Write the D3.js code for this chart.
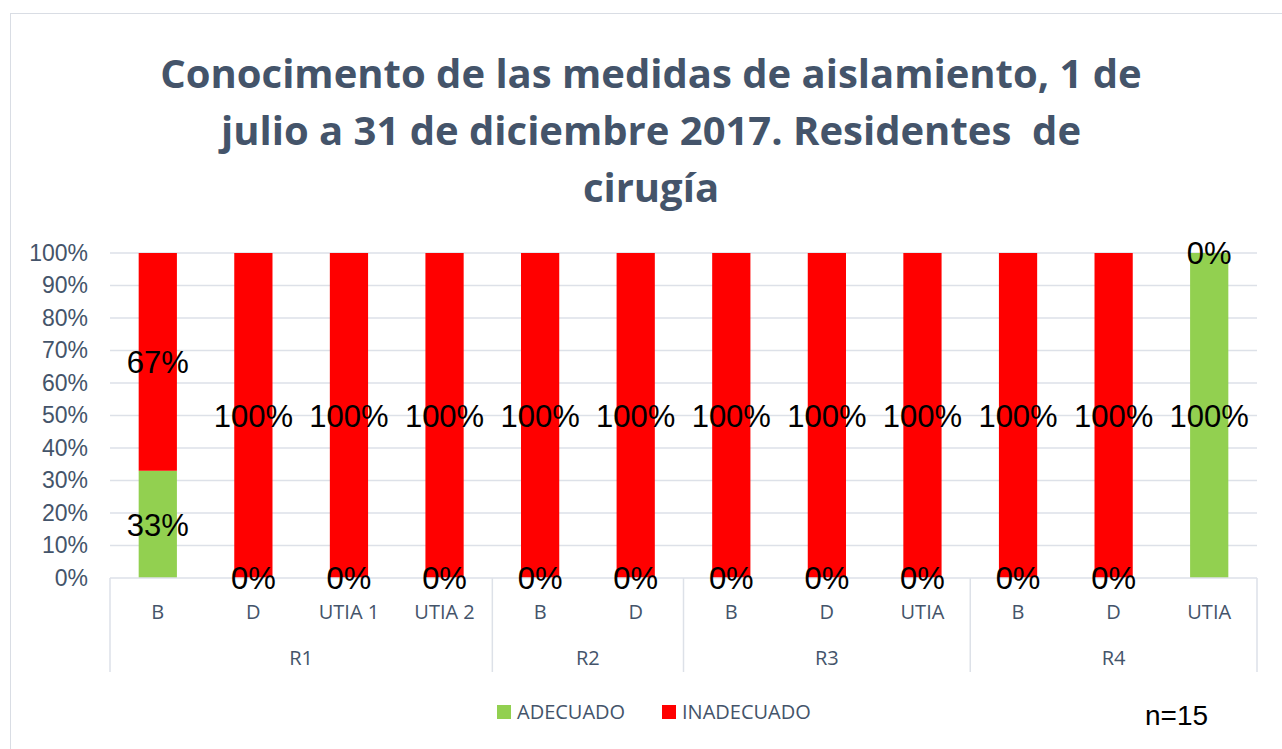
<!DOCTYPE html>
<html>
<head>
<meta charset="utf-8">
<script src="https://cdn.jsdelivr.net/npm/d3@7"></script>
<style>
  body { margin: 0; background: #fff; }
  svg { display: block; }
</style>
</head>
<body>
<div id="chart"></div>
<script>
const titleLines = [
  "Conocimento de las medidas de aislamiento, 1 de",
  "julio a 31 de diciembre 2017. Residentes  de",
  "cirugía"
];
const groups = ["R1", "R1", "R1", "R1", "R2", "R2", "R3", "R3", "R3", "R4", "R4", "R4"];
const categories = ["B", "D", "UTIA 1", "UTIA 2", "B", "D", "B", "D", "UTIA", "B", "D", "UTIA"];
const adecuado = [33, 0, 0, 0, 0, 0, 0, 0, 0, 0, 0, 100];
const inadecuado = [67, 100, 100, 100, 100, 100, 100, 100, 100, 100, 100, 0];
const seriesNames = ["ADECUADO", "INADECUADO"];
const seriesColors = ["#92d050", "#ff0000"];
const yTicks = [0, 10, 20, 30, 40, 50, 60, 70, 80, 90, 100];

const width = 1282;
const height = 749;
const margin = { left: 110, right: 25, top: 253, bottom: 171 };
const textColor = "#44546a";
const gridColor = "#dde1e8";

const svg = d3.select("#chart").append("svg")
  .attr("width", width)
  .attr("height", height);

// outer chart border
svg.append("rect")
  .attr("x", 10.5).attr("y", 13.5)
  .attr("width", 1280).attr("height", 760)
  .attr("fill", "#fff")
  .attr("stroke", "#d9dde4");

// title
svg.append("g")
  .selectAll("text")
  .data(titleLines)
  .join("text")
  .attr("x", 651)
  .attr("y", (d, i) => 88 + i * 57)
  .attr("text-anchor", "middle")
  .attr("font-family", "'Open Sans', sans-serif")
  .attr("font-weight", "bold")
  .attr("font-size", 40)
  .attr("fill", textColor)
  .style("white-space", "pre")
  .text(d => d);

const idx = d3.range(categories.length);
const x = d3.scaleBand()
  .domain(idx)
  .range([margin.left, width - margin.right])
  .paddingInner(0.6)
  .paddingOuter(0.3);
const y = d3.scaleLinear()
  .domain([0, 100])
  .range([height - margin.bottom, margin.top]);

// gridlines
svg.append("g")
  .selectAll("line")
  .data(yTicks.slice(1))
  .join("line")
  .attr("x1", margin.left)
  .attr("x2", width - margin.right)
  .attr("y1", d => y(d))
  .attr("y2", d => y(d))
  .attr("stroke", gridColor)
  .attr("stroke-width", 1.5);

// y axis labels
const yAxis = d3.axisLeft(y)
  .tickValues(yTicks)
  .tickFormat(d => d + "%")
  .tickSize(0)
  .tickPadding(22);
svg.append("g")
  .attr("transform", `translate(${margin.left},0)`)
  .call(yAxis)
  .call(g => g.select(".domain").remove())
  .call(g => g.selectAll("text")
    .attr("font-family", "'Liberation Sans', Arial, sans-serif")
    .attr("font-size", 23)
    .attr("fill", textColor));

// stacked bars
const rows = idx.map(i => ({ i, ADECUADO: adecuado[i], INADECUADO: inadecuado[i] }));
const stacked = d3.stack().keys(seriesNames)(rows);

svg.append("g")
  .selectAll("g")
  .data(stacked)
  .join("g")
  .attr("fill", (d, k) => seriesColors[k])
  .selectAll("rect")
  .data(d => d)
  .join("rect")
  .attr("x", d => x(d.data.i))
  .attr("width", x.bandwidth())
  .attr("y", d => y(d[1]))
  .attr("height", d => y(d[0]) - y(d[1]));

// category axis line and separators
const x0 = margin.left;
const x1 = width - margin.right;
const axisY = y(0);
const sepBottom = axisY + 94;
svg.append("line")
  .attr("x1", x0).attr("x2", x1)
  .attr("y1", axisY).attr("y2", axisY)
  .attr("stroke", gridColor).attr("stroke-width", 1.5);

const groupNames = Array.from(new Set(groups));
const groupSpans = groupNames.map(g => {
  const members = idx.filter(i => groups[i] === g);
  const step = x.step();
  const start = x(members[0]) - x.paddingInner() * step / 2 - (members[0] === 0 ? x.paddingOuter() * step - x.paddingInner() * step / 2 : 0);
  const last = members[members.length - 1];
  const end = last === idx.length - 1 ? x1 : x(last) + x.bandwidth() + x.paddingInner() * step / 2;
  return { name: g, start, end };
});

const seps = [x0].concat(groupSpans.map(s => s.end));
svg.append("g")
  .selectAll("line")
  .data(seps)
  .join("line")
  .attr("x1", d => d).attr("x2", d => d)
  .attr("y1", axisY).attr("y2", sepBottom)
  .attr("stroke", gridColor).attr("stroke-width", 1.5);

// category labels
svg.append("g")
  .selectAll("text")
  .data(idx)
  .join("text")
  .attr("x", i => x(i) + x.bandwidth() / 2)
  .attr("y", axisY + 41)
  .attr("text-anchor", "middle")
  .attr("font-family", "'Open Sans', sans-serif")
  .attr("font-size", 20)
  .attr("fill", textColor)
  .text(i => categories[i]);

// group labels
svg.append("g")
  .selectAll("text")
  .data(groupSpans)
  .join("text")
  .attr("x", d => (d.start + d.end) / 2)
  .attr("y", axisY + 87)
  .attr("text-anchor", "middle")
  .attr("font-family", "'Open Sans', sans-serif")
  .attr("font-size", 20)
  .attr("fill", textColor)
  .text(d => d.name);

// data labels
const labels = stacked.flatMap(s => s.map(d => ({ d, key: s.key })));
svg.append("g")
  .selectAll("text")
  .data(labels)
  .join("text")
  .attr("x", l => x(l.d.data.i) + x.bandwidth() / 2)
  .attr("y", l => y((l.d[0] + l.d[1]) / 2))
  .attr("dy", "0.36em")
  .attr("text-anchor", "middle")
  .attr("font-family", "'Liberation Sans', Arial, sans-serif")
  .attr("font-size", 31)
  .attr("fill", "#000")
  .text(l => l.d.data[l.key] + "%");

// legend
const legend = svg.append("g")
  .attr("transform", "translate(497,712)");
const legendItems = legend.selectAll("g")
  .data(seriesNames)
  .join("g")
  .attr("transform", (d, i) => `translate(${i * 165},0)`);
legendItems.append("rect")
  .attr("x", 0).attr("y", -7)
  .attr("width", 14).attr("height", 14)
  .attr("fill", (d, i) => seriesColors[i]);
legendItems.append("text")
  .attr("x", 20)
  .attr("dy", "0.35em")
  .attr("font-family", "'Open Sans', sans-serif")
  .attr("font-size", 20)
  .attr("fill", textColor)
  .text(d => d);

// sample size note
svg.append("text")
  .attr("x", 1145)
  .attr("y", 725)
  .attr("font-family", "'Liberation Sans', Arial, sans-serif")
  .attr("font-size", 28)
  .attr("fill", "#000")
  .text("n=15");
</script>
</body>
</html>
